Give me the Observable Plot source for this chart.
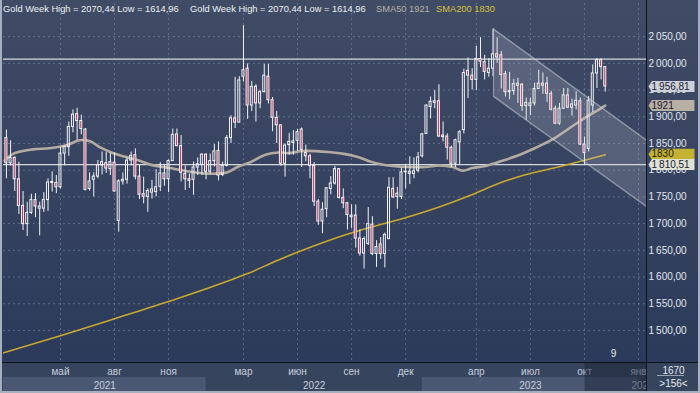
<!DOCTYPE html>
<html><head><meta charset="utf-8">
<script src="https://cdn.jsdelivr.net/npm/d3@7"></script>
<script src="https://cdn.jsdelivr.net/npm/@observablehq/plot@0.6"></script>
<style>
body{margin:0;background:#2e3b56;}
#wrap{position:relative;width:700px;height:393px;overflow:hidden;font-family:"Liberation Sans",Arial,sans-serif;background:linear-gradient(#404b65,#2a395a);}
#main{position:absolute;left:0;top:0;}
#strip{position:absolute;left:0;top:363px;}
.hdr{position:absolute;top:3px;font-size:9.3px;line-height:12px;white-space:nowrap;}
#vsep{position:absolute;left:646px;top:0;width:1px;height:393px;background:#0e121a;}
#hsep{position:absolute;left:0;top:362px;width:700px;height:1px;background:#0e121a;}
#border{position:absolute;left:0;top:0;width:696px;height:391px;border:2px solid #a6afbd;border-top:none;pointer-events:none;}
.rb{position:absolute;left:647px;width:53px;text-align:center;font-size:10px;color:#e6eaf0;}
#rbline{position:absolute;left:657px;top:375px;width:27px;height:1px;background:#9aa4b4;}
</style></head><body>
<div id="wrap">
  <div id="main"></div>
  <div id="strip"></div>
  <div class="hdr" id="h1" style="left:3px;color:#eef1f5"></div>
  <div class="hdr" id="h2" style="left:190px;color:#eef1f5"></div>
  <div class="hdr" id="h3" style="left:376px;color:#b9b2a8"></div>
  <div class="hdr" id="h4" style="left:436px;color:#d8c23c"></div>
  <div class="rb" style="top:365px">1670</div>
  <div id="rbline"></div>
  <div class="rb" style="top:378px">&gt;156&lt;</div>
  <div id="vsep"></div>
  <div id="hsep"></div>
  <div id="border"></div>
</div>
<script>
// ---------------- data ----------------
const firstWeek = "2021-02-01";
const open = [1860,1813,1823,1783,1733,1699,1720,1744,1728,1728,1744,1776,1776,1768,1831,1843,1881,1905,1892,1876,1765,1782,1788,1809,1813,1802,1814,1705,1779,1782,1818,1828,1788,1755,1750,1758,1759,1769,1794,1783,1817,1867,1845,1793,1783,1782,1805,1810,
1829,1797,1817,1836,1791,1808,1860,1897,1889,1975,1990,1921,1956,1925,1946,1975,1931,1898,1884,1812,1847,1851,1855,1876,1832,1826,1808,1741,1704,1727,1765,1775,1802,1748,1738,1715,1715,1672,1644,1662,1698,1643,1661,1643,1671,1765,1750,1750,1796,1797,1793,1799,
1826,1868,1918,1926,1929,1865,1863,1842,1812,1852,1875,1986,1977,1969,2008,2002,1982,1990,2017,2015,1980,1946,1948,1958,1960,1920,1920,1925,1952,1962,1962,1943,1915,1887,1915,1940,1917,1921,1929,1848,1840,1921,1981,2006,1993];
const high = [1875,1855,1825,1815,1760,1740,1755,1756,1740,1758,1784,1797,1790,1843,1845,1890,1913,1916,1903,1878,1795,1795,1818,1834,1833,1832,1832,1782,1795,1823,1834,1840,1809,1787,1765,1781,1801,1814,1810,1819,1877,1877,1865,1808,1793,1815,1823,1831,
1831,1830,1848,1853,1815,1865,1902,1974,1975,2070.44,1999,1966,1960,1949,1998,1998,1936,1910,1885,1849,1869,1874,1876,1879,1847,1830,1814,1745,1739,1767,1788,1807,1803,1765,1740,1735,1735,1688,1675,1730,1713,1668,1674,1682,1786,1786,1768,1804,1810,1825,1823,1833,
1869,1922,1937,1949,1960,1890,1868,1845,1858,1874,1989,2010,1990,2032,2048,2015,2009,2064,2048,2022,1985,1983,1970,1972,1962,1935,1935,1963,1987,1982,1974,1948,1920,1925,1953,1953,1933,1947,1935,1862,1938,1997,2009,2009,1993];
const low = [1784,1808,1760,1717,1687,1676,1717,1711,1677,1721,1723,1759,1756,1765,1808,1826,1870,1856,1866,1761,1761,1750,1784,1791,1794,1790,1759,1684,1772,1774,1808,1782,1745,1737,1721,1746,1750,1760,1770,1758,1817,1844,1778,1762,1766,1753,1790,1790,
1782,1792,1806,1780,1788,1806,1850,1878,1889,1965,1895,1910,1890,1915,1945,1924,1872,1850,1807,1787,1828,1828,1835,1805,1816,1784,1732,1697,1681,1711,1754,1772,1746,1728,1688,1691,1654,1639,1614.96,1659,1640,1618,1633,1617,1670,1747,1727,1745,1765,1773,1784,1795,
1823,1867,1896,1915,1861,1853,1819,1805,1805,1810,1868,1934,1950,1949,1992,1969,1974,1975,2000,1952,1937,1932,1940,1925,1910,1893,1902,1920,1952,1942,1927,1911,1885,1884,1914,1915,1901,1913,1846,1810,1834,1908,1953,1969,1946];
const close = [1813,1823,1783,1733,1699,1720,1744,1732,1732,1744,1777,1778,1768,1831,1844,1881,1904,1892,1877,1763,1779,1788,1809,1815,1803,1815,1760,1779,1782,1818,1827,1788,1754,1750,1761,1764,1768,1794,1783,1817,1866,1845,1795,1783,1780,1805,1811,1829,
1797,1817,1835,1790,1808,1860,1897,1889,1968,1987,1921,1956,1925,1946,1977,1931,1898,1884,1812,1846,1853,1854,1871,1838,1826,1808,1741,1704,1726,1766,1775,1802,1748,1738,1716,1712,1672,1644,1671,1699,1643,1656,1643,1679,1767,1749,1756,1796,1797,1793,1798,1824,
1867,1921,1928,1929,1863,1862,1842,1812,1856,1871,1982,1977,1969,2008,2003,1984,1990,2017,2011,1978,1946,1948,1961,1962,1920,1926,1925,1952,1962,1958,1943,1913,1887,1915,1940,1917,1923,1930,1848,1832,1930,1981,2006,1993,1956.81];

const sma50Dates = ["2021-01-29","2021-02-13","2021-03-18","2021-04-15","2021-05-14","2021-06-04","2021-06-22","2021-07-08","2021-07-30","2021-08-20","2021-09-09","2021-10-06","2021-11-03","2021-12-02","2021-12-29","2022-01-27","2022-02-08","2022-02-25","2022-03-19","2022-04-13","2022-05-05","2022-05-22","2022-06-16","2022-07-28","2022-08-26","2022-09-17","2022-10-07","2022-10-20","2022-11-13","2022-12-10","2023-01-07","2023-01-30","2023-02-22","2023-03-11","2023-03-27","2023-04-19","2023-05-18","2023-06-13","2023-07-12","2023-08-10","2023-09-06","2023-10-04","2023-10-21","2023-11-06"];
const sma50Values = [1818,1831,1839,1841,1847,1856,1854,1843,1832,1825,1819,1809,1804,1798,1794,1794,1796,1806,1815,1829,1833,1832,1836,1834,1830,1824,1816,1812,1808,1806,1806,1809,1806,1799,1804,1808,1818,1828,1842,1858,1878,1899,1910,1921];
const sma200Dates = ["2021-01-27","2021-05-03","2021-08-16","2021-11-25","2022-02-17","2022-03-13","2022-05-05","2022-07-01","2022-08-26","2022-10-07","2022-12-02","2023-01-28","2023-03-22","2023-05-03","2023-06-23","2023-08-19","2023-10-04","2023-11-06"];
const sma200Values = [1458,1490,1527,1563,1596,1606,1632,1657,1679,1693,1710,1730,1752,1772,1791,1806,1819,1829];

const levels = [2008, 1810.51];
const channelDates = ["2023-05-02","2024-01-14T10:00"];
const channelUpper = [2064, 1856];
const channelLower = [1938, 1732];

const headerHigh = 2070.44, headerLow = 1614.96, sma50Last = 1921, sma200Last = 1830, lastPrice = 1956.81;

const yTicks = [1500,1550,1600,1650,1700,1750,1800,1850,1900,1950,2000,2050];
const monthTickDates = ["2021-05-03","2021-08-02","2021-11-01","2022-03-07","2022-06-06","2022-09-05","2022-12-05","2023-04-03","2023-07-03","2023-10-02","2024-01-01"];
const monthTickLabels = ["май","авг","ноя","мар","июн","сен","дек","апр","июл","окт","янв"];
const yearStarts = ["2021-01-04","2022-01-03","2023-01-02","2024-01-01"];
const yearEnds = ["2022-01-03","2023-01-02","2024-01-01","2024-12-30"];
const yearLabels = ["2021","2022","2023","2024"];
const xDomain = [new Date("2021-01-27T02:00Z"), new Date("2024-01-14T10:00Z")];
const viewMarkStart = "2023-10-03";

// ---------------- build ----------------
const ru = d3.formatLocale({decimal: ",", thousands: "\u2009", grouping: [3], currency: ["", ""]});
const f2 = ru.format(",.2f");
const fPlain = ru.format(".2f");

document.getElementById("h1").textContent = `Gold Week High = ${fPlain(headerHigh)} Low = ${fPlain(headerLow)}`;
document.getElementById("h2").textContent = `Gold Week High = ${fPlain(headerHigh)} Low = ${fPlain(headerLow)}`;
document.getElementById("h3").textContent = `SMA50 ${sma50Last}`;
document.getElementById("h4").textContent = `SMA200 ${sma200Last}`;

const t0 = new Date(firstWeek + "T00:00Z");
const candles = open.map((o, i) => ({date: d3.utcDay.offset(t0, 7 * i), o, h: high[i], l: low[i], c: close[i]}));
const sma50 = sma50Dates.map((d, i) => ({date: new Date(d + "T00:00Z"), v: sma50Values[i]}));
const sma200 = sma200Dates.map((d, i) => ({date: new Date(d + "T00:00Z"), v: sma200Values[i]}));
const channel = channelDates.map((d, i) => ({date: new Date(d.length > 10 ? d + "Z" : d + "T00:00Z"), hi: channelUpper[i], lo: channelLower[i]}));
const monthTicks = monthTickDates.map((d, i) => ({date: new Date(d + "T00:00Z"), label: monthTickLabels[i]}));
const years = yearLabels.map((y, i) => {
  const s = new Date(yearStarts[i] + "T00:00Z"), e = new Date(yearEnds[i] + "T00:00Z");
  const vs = s < xDomain[0] ? xDomain[0] : s, ve = e > xDomain[1] ? xDomain[1] : e;
  return {start: s, end: e, mid: new Date((+vs + +ve) / 2), label: y, shade: i % 2 === 0 ? "#4a5874" : "none"};
});

const tags = [
  {value: lastPrice, label: f2(lastPrice), bg: "#cbd0da", fg: "#1b2030"},
  {value: sma50Last, label: String(sma50Last), bg: "#b8afa5", fg: "#1b2030"},
  {value: sma200Last, label: String(sma200Last), bg: "#c4b232", fg: "#1b1b10"},
  {value: levels[1], label: f2(levels[1]), bg: "#dde1d6", fg: "#1b2030"}
];
const tagSymbol = {draw(ctx) { ctx.moveTo(-23, 0); ctx.lineTo(-19.5, -5.5); ctx.lineTo(23, -5.5); ctx.lineTo(23, 5.5); ctx.lineTo(-19.5, 5.5); ctx.closePath(); }};

const red = "#c2325c";
const wickColor = "#f2f3f5";
const halfBody = 1.7 * 24; // hours

const main = Plot.plot({
  width: 700, height: 363,
  marginLeft: 3, marginRight: 54, marginTop: 3, marginBottom: 1,
  style: {background: "transparent", fontFamily: "Liberation Sans, Arial, sans-serif", fontSize: "10px", color: "#e2e6ee"},
  x: {type: "utc", domain: xDomain, axis: null},
  y: {domain: [1440, 2112], axis: null},
  marks: [
    Plot.gridY(yTicks, {stroke: "#8391ae", strokeOpacity: 0.55, strokeDasharray: "2,3"}),
    Plot.gridX(monthTicks.map(d => d.date), {stroke: "#8391ae", strokeOpacity: 0.55, strokeDasharray: "2,3"}),
    Plot.ruleY(levels, {stroke: "#d3d7de", strokeWidth: 1.3}),
    Plot.line(sma200, {x: "date", y: "v", stroke: "#c9a82e", strokeWidth: 1.6, curve: "monotone-x", clip: true}),
    Plot.line(sma50, {x: "date", y: "v", stroke: "#b3aba1", strokeWidth: 2.6, curve: "catmull-rom", clip: true}),
    Plot.ruleX(candles, {x: "date", y1: "l", y2: d => Math.min(d.o, d.c), stroke: wickColor, strokeWidth: 1, clip: true}),
    Plot.ruleX(candles, {x: "date", y1: d => Math.max(d.o, d.c), y2: "h", stroke: wickColor, strokeWidth: 1, clip: true}),
    Plot.rect(candles, {
      x1: d => d3.utcHour.offset(d.date, -halfBody), x2: d => d3.utcHour.offset(d.date, halfBody),
      y1: d => Math.min(d.o, d.c), y2: d => Math.max(d.o, d.c),
      fill: d => d.c >= d.o ? "none" : red, stroke: wickColor, strokeWidth: 1, clip: true
    }),
    Plot.areaY(channel, {x: "date", y1: "lo", y2: "hi", fill: "#d0d4de", fillOpacity: 0.2, clip: true}),
    Plot.line(channel, {x: "date", y: "hi", stroke: "#c9cdd6", strokeOpacity: 0.55, clip: true}),
    Plot.line(channel, {x: "date", y: "lo", stroke: "#c9cdd6", strokeOpacity: 0.55, clip: true}),
    Plot.ruleX(channel.slice(0, 1), {x: "date", y1: "lo", y2: "hi", stroke: "#c9cdd6", strokeOpacity: 0.55}),
    Plot.axisY(yTicks, {anchor: "right", tickSize: 0, tickPadding: 2, tickFormat: f2, fill: "#e2e6ee", fontSize: 10}),
    Plot.dot(tags, {y: "value", frameAnchor: "right", dx: 25, r: 5, symbol: tagSymbol, fill: "bg", stroke: "none"}),
    Plot.text(tags, {y: "value", text: "label", frameAnchor: "right", dx: 5, textAnchor: "start", fill: "fg", fontSize: 10}),
    Plot.text(["9"], {x: () => new Date("2023-11-20T00:00Z"), frameAnchor: "bottom", dy: -6, text: d => d, fill: "#e6eaf0", fontSize: 10})
  ]
});
document.getElementById("main").appendChild(main);

const strip = Plot.plot({
  width: 700, height: 30,
  marginLeft: 3, marginRight: 54, marginTop: 0, marginBottom: 0,
  style: {background: "#36445e", fontFamily: "Liberation Sans, Arial, sans-serif", fontSize: "10px"},
  x: {type: "utc", domain: xDomain, axis: null},
  marks: [
    Plot.rect(years, {x1: "start", x2: "end", fill: "shade", insetTop: 14, insetBottom: 2, clip: true}),
    Plot.text(years, {x: "mid", text: "label", frameAnchor: "bottom", lineAnchor: "middle", dy: -8, fill: "#c9d0dc", clip: true}),
    Plot.text(monthTicks, {x: "date", text: "label", frameAnchor: "top", lineAnchor: "middle", dy: 8, fill: "#c9d0dc", clip: true}),
    Plot.rect([viewMarkStart], {x1: d => new Date(d + "T00:00Z"), x2: () => xDomain[1], fill: "#1a2336", fillOpacity: 0.5})
  ]
});
document.getElementById("strip").appendChild(strip);
</script>
</body></html>
